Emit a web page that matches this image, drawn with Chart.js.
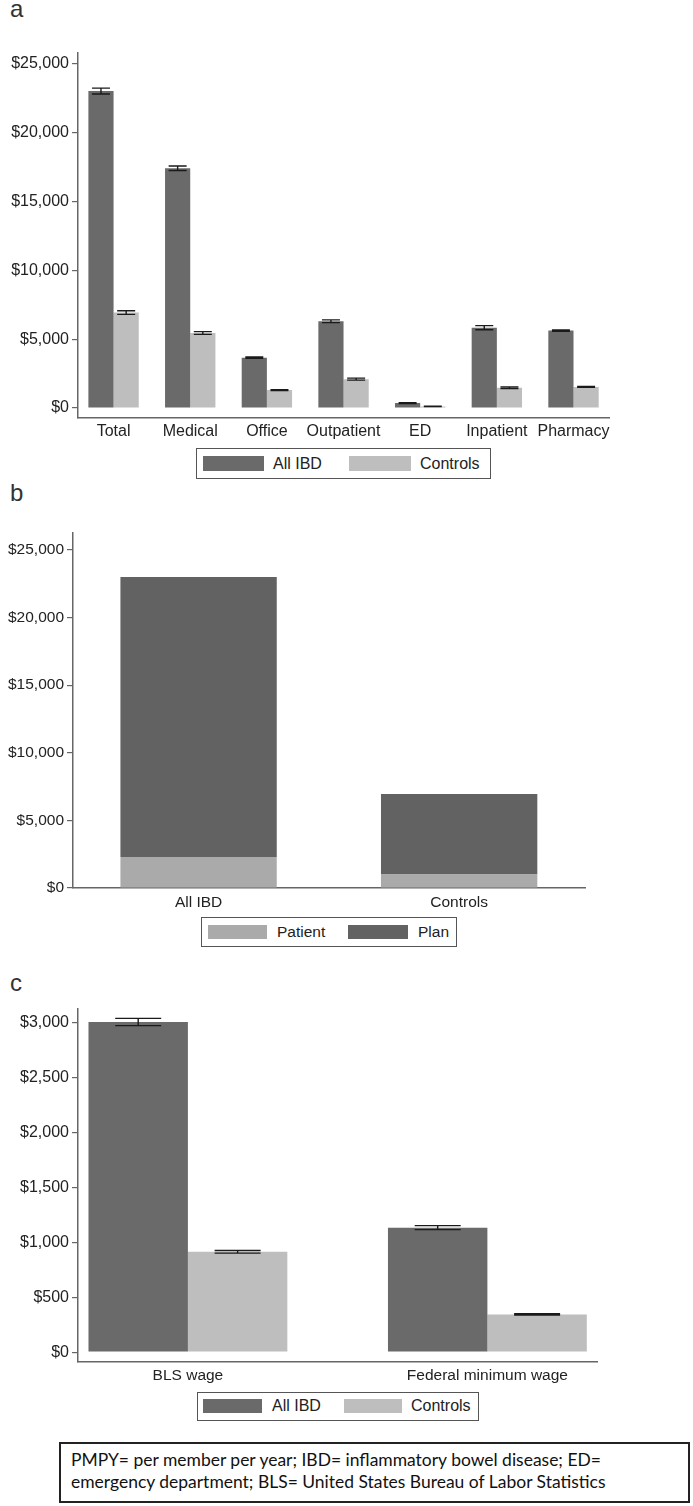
<!DOCTYPE html>
<html>
<head>
<meta charset="utf-8">
<script src="https://cdn.jsdelivr.net/npm/chart.js@4.4.0/dist/chart.umd.min.js"></script>
<style>
html,body{margin:0;padding:0;background:#fff;}
body{width:693px;height:1506px;position:relative;overflow:hidden;font-family:'Liberation Sans',Arial,sans-serif;}
.wrap{position:absolute;left:0;width:693px;}
.panel{position:absolute;font-size:24px;line-height:24px;color:#333;}
.legend{position:absolute;border:1.5px solid #555;box-sizing:border-box;background:#fff;}
.sw{position:absolute;}
.lt{position:absolute;color:#222;white-space:nowrap;}
#note{position:absolute;left:59px;top:1442px;width:631px;height:61px;border:2px solid #222;box-sizing:border-box;}
.nl{position:absolute;left:10px;white-space:nowrap;font-family:Lato,'Open Sans',sans-serif;color:#111;}
</style>
</head>
<body>
<div class="panel" style="left:10px;top:-3px;">a</div>
<div class="panel" style="left:10px;top:481px;">b</div>
<div class="panel" style="left:10px;top:971px;">c</div>

<div class="wrap" style="top:40px;height:408px;"><canvas id="ca"></canvas></div>
<div class="wrap" style="top:510px;height:408px;"><canvas id="cb"></canvas></div>
<div class="wrap" style="top:996px;height:396px;"><canvas id="cc"></canvas></div>

<div id="legends"></div>
<div id="note"></div>

<script>
// ---------- DATA ----------
// Panel a: costs PMPY by category
const categoriesA = ['Total', 'Medical', 'Office', 'Outpatient', 'ED', 'Inpatient', 'Pharmacy'];
const ibdA      = [23000, 17400, 3660, 6300, 360, 5830, 5620];
const controlsA = [6930, 5450, 1310, 2100, 120, 1480, 1530];
const ibdErrA      = [210, 160, 50, 100, 25, 150, 50];
const controlsErrA = [130, 100, 30, 70, 15, 60, 30];
const yTicksA = [0, 5000, 10000, 15000, 20000, 25000];

// Panel b: patient vs plan paid
const groupsB  = ['All IBD', 'Controls'];
const patientB = [2300, 1000];
const planB    = [20700, 5950];
const yTicksB = [0, 5000, 10000, 15000, 20000, 25000];

// Panel c: indirect costs
const groupsC   = ['BLS wage', 'Federal minimum wage'];
const ibdC      = [3010, 1135];
const controlsC = [915, 344];
const ibdErrC      = [33, 18];
const controlsErrC = [12, 6];
const yTicksC = [0, 500, 1000, 1500, 2000, 2500, 3000];

const seriesLabelsAC = ['All IBD', 'Controls'];
const seriesLabelsB  = ['Patient', 'Plan'];

const footnoteLines = [
  'PMPY= per member per year; IBD= inflammatory bowel disease; ED=',
  'emergency department; BLS= United States Bureau of Labor Statistics'
];

// ---------- STYLE ----------
const DARK = '#6a6a6a', LIGHT = '#bebebe';
const PLAN = '#626262', PATIENT = '#aaaaaa';
const FONT = "'Liberation Sans', Arial, sans-serif";
const AXIS = '#666';

const errorBars = {
  id: 'errorBars',
  afterDatasetsDraw(chart, args, opts) {
    const ctx = chart.ctx, ys = chart.scales.y;
    chart.data.datasets.forEach((ds, di) => {
      if (!ds.errors) return;
      const meta = chart.getDatasetMeta(di);
      meta.data.forEach((bar, i) => {
        const v = ds.data[i].y, e = ds.errors[i];
        const yt = ys.getPixelForValue(v + e), yb = ys.getPixelForValue(v - e);
        const x = bar.x, hw = opts.capWidth / 2;
        ctx.save();
        ctx.strokeStyle = '#1a1a1a';
        ctx.lineWidth = 1.4;
        ctx.beginPath();
        ctx.moveTo(x, yt); ctx.lineTo(x, yb);
        ctx.moveTo(x - hw, yt); ctx.lineTo(x + hw, yt);
        ctx.moveTo(x - hw, yb); ctx.lineTo(x + hw, yb);
        ctx.stroke();
        ctx.restore();
      });
    });
  }
};

const money = v => '$' + Number(v).toLocaleString('en-US');

function makeOptions(o) {
  return {
    responsive: true, maintainAspectRatio: false, animation: false,
    layout: { padding: o.padding },
    plugins: { legend: { display: false }, tooltip: { enabled: false }, errorBars: { capWidth: o.cap || 0 } },
    scales: {
      x: {
        type: 'linear', bounds: 'data', offset: false,
        min: o.xmin, max: o.xmax,
        afterBuildTicks: s => { s.ticks = o.labels.map((c, i) => ({ value: i })); },
        ticks: { autoSkip: false, maxRotation: 0, minRotation: 0, padding: o.xpad,
                 callback: v => o.labels[v], font: { family: FONT, size: o.xfont }, color: '#222' },
        grid: { display: false, drawTicks: false, tickLength: 0 },
        border: { display: true, color: AXIS, width: 1.5 },
        afterFit: s => { s.height = 30; }
      },
      y: {
        type: 'linear', bounds: 'data', stacked: !!o.stacked,
        min: o.ymin, max: o.ymax,
        afterBuildTicks: s => { s.ticks = o.yticks.map(v => ({ value: v })); },
        ticks: { padding: 3, callback: v => money(v), font: { family: FONT, size: o.yfont }, color: '#222' },
        grid: { display: true, drawOnChartArea: false, drawTicks: true, tickLength: 6, color: AXIS, lineWidth: 1.2 },
        border: { display: true, color: AXIS, width: 1.5 },
        afterFit: s => { s.width = o.yw; }
      }
    }
  };
}

// Panel a
new Chart(document.getElementById('ca'), {
  type: 'bar',
  data: { datasets: [
    { label: seriesLabelsAC[0], data: categoriesA.map((c, i) => ({ x: i, y: ibdA[i] })), errors: ibdErrA,
      backgroundColor: DARK, categoryPercentage: 0.657, barPercentage: 1 },
    { label: seriesLabelsAC[1], data: categoriesA.map((c, i) => ({ x: i, y: controlsA[i] })), errors: controlsErrA,
      backgroundColor: LIGHT, categoryPercentage: 0.657, barPercentage: 1 }
  ]},
  options: makeOptions({ padding: { left: 0, right: 84, top: 9, bottom: 0 }, labels: categoriesA,
    xmin: -0.464, xmax: 6.463, ymin: -720, ymax: 25790, yticks: yTicksA, yw: 78, xfont: 16, yfont: 16, xpad: 4, cap: 18 }),
  plugins: [errorBars]
});

// Panel b
new Chart(document.getElementById('cb'), {
  type: 'bar',
  data: { datasets: [
    { label: seriesLabelsB[0], data: groupsB.map((c, i) => ({ x: i, y: patientB[i] })), stack: 's',
      backgroundColor: PATIENT, categoryPercentage: 0.6, barPercentage: 1 },
    { label: seriesLabelsB[1], data: groupsB.map((c, i) => ({ x: i, y: planB[i] })), stack: 's',
      backgroundColor: PLAN, categoryPercentage: 0.6, barPercentage: 1 }
  ]},
  options: makeOptions({ padding: { left: 0, right: 108, top: 23, bottom: 0 }, labels: groupsB, stacked: true,
    xmin: -0.482, xmax: 1.483, ymin: 0, ymax: 26257, yticks: yTicksB, yw: 73, xfont: 15.5, yfont: 15.5, xpad: 5 }),
  plugins: [errorBars]
});

// Panel c
new Chart(document.getElementById('cc'), {
  type: 'bar',
  data: { datasets: [
    { label: seriesLabelsAC[0], data: groupsC.map((c, i) => ({ x: i, y: ibdC[i] })), errors: ibdErrC,
      backgroundColor: DARK, categoryPercentage: 0.664, barPercentage: 1 },
    { label: seriesLabelsAC[1], data: groupsC.map((c, i) => ({ x: i, y: controlsC[i] })), errors: controlsErrC,
      backgroundColor: LIGHT, categoryPercentage: 0.664, barPercentage: 1 }
  ]},
  options: makeOptions({ padding: { left: 0, right: 96, top: 12, bottom: 0 }, labels: groupsC,
    xmin: -0.367, xmax: 1.366, ymin: -90, ymax: 3132, yticks: yTicksC, yw: 78, xfont: 15.5, yfont: 16, xpad: 4, cap: 46 }),
  plugins: [errorBars]
});

// ---------- LEGENDS (HTML boxes) ----------
const legendSpecs = [
  { box: [196, 448, 295, 31], size: 16, items: [
    { text: seriesLabelsAC[0], color: DARK,  sw: [203, 456, 61, 15], tx: 273 },
    { text: seriesLabelsAC[1], color: LIGHT, sw: [349, 456, 62, 15], tx: 420 } ] },
  { box: [201, 917, 256, 30], size: 15.5, items: [
    { text: seriesLabelsB[0], color: PATIENT, sw: [208, 925, 59, 14], tx: 277 },
    { text: seriesLabelsB[1], color: PLAN,    sw: [348, 925, 60, 14], tx: 418 } ] },
  { box: [197, 1392, 282, 29], size: 16, items: [
    { text: seriesLabelsAC[0], color: DARK,  sw: [203, 1399, 59, 14], tx: 272 },
    { text: seriesLabelsAC[1], color: LIGHT, sw: [344, 1399, 58, 14], tx: 411 } ] }
];
const lg = document.getElementById('legends');
legendSpecs.forEach(spec => {
  const [bx, by, bw, bh] = spec.box;
  const b = document.createElement('div');
  b.className = 'legend';
  Object.assign(b.style, { left: bx + 'px', top: by + 'px', width: bw + 'px', height: bh + 'px' });
  lg.appendChild(b);
  spec.items.forEach(it => {
    const s = document.createElement('div');
    s.className = 'sw';
    Object.assign(s.style, { left: it.sw[0] + 'px', top: it.sw[1] + 'px', width: it.sw[2] + 'px', height: it.sw[3] + 'px', background: it.color });
    lg.appendChild(s);
    const t = document.createElement('div');
    t.className = 'lt';
    t.textContent = it.text;
    const cy = it.sw[1] + it.sw[3] / 2;
    Object.assign(t.style, { left: it.tx + 'px', top: (cy - spec.size / 2) + 'px', fontSize: spec.size + 'px', lineHeight: spec.size + 'px', fontFamily: FONT });
    lg.appendChild(t);
  });
});

// ---------- FOOTNOTE ----------
const note = document.getElementById('note');
const mc = document.createElement('canvas').getContext('2d');
mc.font = "20px Lato";
const w20 = mc.measureText(footnoteLines[0]).width;
const fs = 20 * 532 / w20;
footnoteLines.forEach((line, i) => {
  const d = document.createElement('div');
  d.className = 'nl';
  d.textContent = line;
  const baseline = 22 + i * 22.3; // relative to box top (inside border)
  Object.assign(d.style, { fontSize: fs + 'px', lineHeight: fs + 'px', top: (baseline - fs * 0.887) + 'px' });
  note.appendChild(d);
});
</script>
</body>
</html>
